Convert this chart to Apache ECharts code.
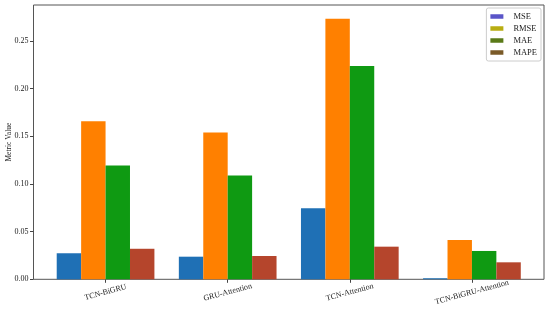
<!DOCTYPE html>
<html>
<head>
<meta charset="utf-8">
<script src="https://cdn.jsdelivr.net/npm/echarts@6/dist/echarts.min.js"></script>
<style>
  html, body { margin: 0; padding: 0; background: #fff; }
</style>
</head>
<body>
<div id="metricChart" style="width:550px;height:313px"></div>
<script>
// values
var categories = ['TCN-BiGRU', 'GRU-Attention', 'TCN-Attention', 'TCN-BiGRU-Attention'];
var mse = [0.0273, 0.0237, 0.0745, 0.0011];
var rmse = [0.1656, 0.1538, 0.2731, 0.0412];
var mae = [0.1193, 0.1087, 0.2235, 0.0297];
var mape = [0.0320, 0.0244, 0.0342, 0.0178];
var yTicks = [0, 0.05, 0.10, 0.15, 0.20, 0.25];

var font = "'Liberation Serif', 'Times New Roman', serif";
var barColors = ['#1f70b5', '#ff8000', '#0f9a12', '#b5452c'];
var legendColors = ['#5a55c8', '#b8ad12', '#5a7a18', '#7a5a28'];

var chart = echarts.init(document.getElementById('metricChart'));

function barSeries(name, data, idx) {
  return {
    name: name,
    type: 'bar',
    xAxisIndex: 0,
    yAxisIndex: 0,
    barGap: '0%',
    barCategoryGap: '20%',
    itemStyle: { color: barColors[idx] },
    data: data
  };
}

chart.setOption({
  animation: false,
  textStyle: { fontFamily: font },
  grid: [
    // bars
    { left: 44.5, right: 17, top: 5, bottom: 33.7, outerBoundsMode: 'none', containLabel: false },
    // frame (spines) + y axis
    { left: 33.5, right: 6, top: 5, bottom: 33.7, outerBoundsMode: 'none', containLabel: false,
      show: true, borderColor: '#555', borderWidth: 1 }
  ],
  legend: {
    orient: 'vertical',
    right: 9,
    top: 8,
    padding: [4, 4, 4, 4],
    itemWidth: 13,
    itemHeight: 4.5,
    itemGap: 3,
    icon: 'rect',
    borderColor: '#ccc',
    borderWidth: 1,
    borderRadius: 2,
    textStyle: { fontFamily: font, fontSize: 8.5, color: '#222', padding: [0, 0, 0, 5] },
    data: ['MSE', 'RMSE', 'MAE', 'MAPE'].map(function (n, i) {
      return { name: n, itemStyle: { color: legendColors[i] } };
    })
  },
  xAxis: [
    {
      type: 'category',
      gridIndex: 0,
      data: categories,
      axisLine: { show: false },
      axisTick: { show: true, alignWithLabel: true, length: 3.5, lineStyle: { color: '#444' } },
      axisLabel: {
        rotate: 15,
        align: 'center',
        verticalAlign: 'middle',
        margin: 13,
        fontFamily: font,
        fontSize: 8,
        color: '#222'
      }
    },
    { type: 'value', gridIndex: 1, show: false }
  ],
  yAxis: [
    {
      type: 'value',
      gridIndex: 0,
      min: 0,
      max: 0.2875,
      show: false
    },
    {
      type: 'value',
      gridIndex: 1,
      min: 0,
      max: 0.2875,
      name: 'Metric Value',
      nameLocation: 'middle',
      nameGap: 20.5,
      nameMoveOverlap: false,
      nameTextStyle: { fontFamily: font, fontSize: 7.5, color: '#222' },
      axisLine: { show: false },
      splitLine: { show: false },
      axisTick: { show: true, length: 3.5, lineStyle: { color: '#444' }, customValues: yTicks },
      axisLabel: {
        fontFamily: font,
        fontSize: 8,
        color: '#222',
        margin: 5,
        customValues: yTicks,
        formatter: function (v) { return v.toFixed(2); }
      }
    }
  ],
  series: [
    barSeries('MSE', mse, 0),
    barSeries('RMSE', rmse, 1),
    barSeries('MAE', mae, 2),
    barSeries('MAPE', mape, 3)
  ]
});
</script>
</body>
</html>
